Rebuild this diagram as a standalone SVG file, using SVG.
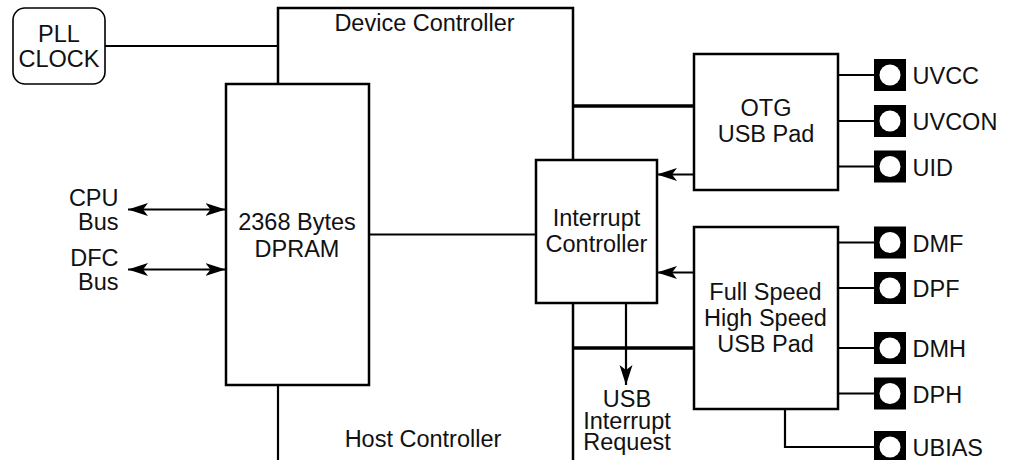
<svg xmlns="http://www.w3.org/2000/svg" width="1015" height="460" viewBox="0 0 1015 460">
<style>
text{font-family:"Liberation Sans",Arial,sans-serif;font-size:23.5px;fill:#111}
.c{text-anchor:middle}
.r{text-anchor:end}
.box{fill:none;stroke:#000;stroke-width:2.5}
.ln{fill:none;stroke:#000;stroke-width:2.2}
.bold{fill:none;stroke:#000;stroke-width:3.5}
.pad{fill:#000}
.hole{fill:#fff}
</style>
<defs>
<marker id="ah" viewBox="0 -7 20 14" refX="20" refY="0" markerWidth="20" markerHeight="14" markerUnits="userSpaceOnUse" orient="auto-start-reverse">
<path d="M0,-6.5 L20,0 L0,6.5 L5,0 Z" fill="#000"/>
</marker>
<g id="padshape"><rect x="-16" y="-16" width="32" height="32" class="pad"/><circle cx="0" cy="0" r="10.5" class="hole"/></g>
</defs>
<rect width="1015" height="460" fill="#fff"/>

<g id="connectors">
<line class="ln" x1="105" y1="46" x2="278" y2="46"/>
<polyline class="box" points="278,84 278,8 573,8 573,160"/>
<line class="ln" x1="278" y1="385" x2="278" y2="460"/>
<line class="ln" x1="369" y1="234.5" x2="536" y2="234.5"/>
<line class="box" x1="573" y1="303" x2="573" y2="460"/>
<line class="bold" x1="573" y1="106" x2="694" y2="106"/>
<line class="bold" x1="573" y1="348" x2="694" y2="348"/>
<line class="ln" x1="626" y1="303" x2="626" y2="385" marker-end="url(#ah)"/>
<line class="ln" x1="694" y1="174.5" x2="657" y2="174.5" marker-end="url(#ah)"/>
<line class="ln" x1="694" y1="272.5" x2="657" y2="272.5" marker-end="url(#ah)"/>
<line class="ln" x1="128" y1="209.5" x2="225.5" y2="209.5" marker-start="url(#ah)" marker-end="url(#ah)"/>
<line class="ln" x1="128" y1="269.5" x2="225.5" y2="269.5" marker-start="url(#ah)" marker-end="url(#ah)"/>
<line class="ln" x1="838" y1="75" x2="874" y2="75"/>
<line class="ln" x1="838" y1="121" x2="874" y2="121"/>
<line class="ln" x1="838" y1="166.5" x2="874" y2="166.5"/>
<line class="ln" x1="838" y1="242.5" x2="874" y2="242.5"/>
<line class="ln" x1="838" y1="288" x2="874" y2="288"/>
<line class="ln" x1="838" y1="348" x2="874" y2="348"/>
<line class="ln" x1="838" y1="393.5" x2="874" y2="393.5"/>
<polyline class="ln" points="785,409 785,447 874,447"/>
</g>

<g id="pll">
<rect x="13" y="8" width="92" height="76" rx="12" fill="none" stroke="#000" stroke-width="1.6"/>
<text class="c" x="59" y="42">PLL</text>
<text class="c" x="59" y="67">CLOCK</text>
</g>

<g id="device-controller">
<text class="c" x="424.5" y="30.5">Device Controller</text>
</g>

<g id="host-controller">
<text class="c" x="423" y="447">Host Controller</text>
</g>

<g id="dpram">
<rect class="box" x="226" y="84" width="143" height="301"/>
<text class="c" x="297" y="230">2368 Bytes</text>
<text class="c" x="297" y="256.5">DPRAM</text>
</g>

<g id="cpu-bus">
<text class="r" x="118.5" y="206">CPU</text>
<text class="r" x="118.5" y="230">Bus</text>
</g>
<g id="dfc-bus">
<text class="r" x="118.5" y="266">DFC</text>
<text class="r" x="118.5" y="289.5">Bus</text>
</g>

<g id="interrupt-controller">
<rect class="box" x="536" y="160" width="121" height="143"/>
<text class="c" x="596.5" y="226">Interrupt</text>
<text class="c" x="596.5" y="251.5">Controller</text>
</g>

<g id="usb-interrupt-request">
<text class="c" x="627" y="407">USB</text>
<text class="c" x="627" y="429">Interrupt</text>
<text class="c" x="627" y="450">Request</text>
</g>

<g id="otg-pad">
<rect class="box" x="694" y="54" width="144" height="136"/>
<text class="c" x="766" y="116">OTG</text>
<text class="c" x="766" y="141.5">USB Pad</text>
</g>

<g id="fs-pad">
<rect class="box" x="694" y="227" width="144" height="182"/>
<text class="c" x="765.5" y="300">Full Speed</text>
<text class="c" x="765.5" y="326">High Speed</text>
<text class="c" x="765.5" y="351.5">USB Pad</text>
</g>

<g id="pin-uvcc"><use href="#padshape" x="890" y="75"/><text x="912.5" y="84">UVCC</text></g>
<g id="pin-uvcon"><use href="#padshape" x="890" y="121"/><text x="912.5" y="130">UVCON</text></g>
<g id="pin-uid"><use href="#padshape" x="890" y="166.5"/><text x="912.5" y="175.5">UID</text></g>
<g id="pin-dmf"><use href="#padshape" x="890" y="242.5"/><text x="912.5" y="251.5">DMF</text></g>
<g id="pin-dpf"><use href="#padshape" x="890" y="288"/><text x="912.5" y="297">DPF</text></g>
<g id="pin-dmh"><use href="#padshape" x="890" y="348"/><text x="912.5" y="357">DMH</text></g>
<g id="pin-dph"><use href="#padshape" x="890" y="393.5"/><text x="912.5" y="402.5">DPH</text></g>
<g id="pin-ubias"><use href="#padshape" x="890" y="447"/><text x="912.5" y="456">UBIAS</text></g>
</svg>
